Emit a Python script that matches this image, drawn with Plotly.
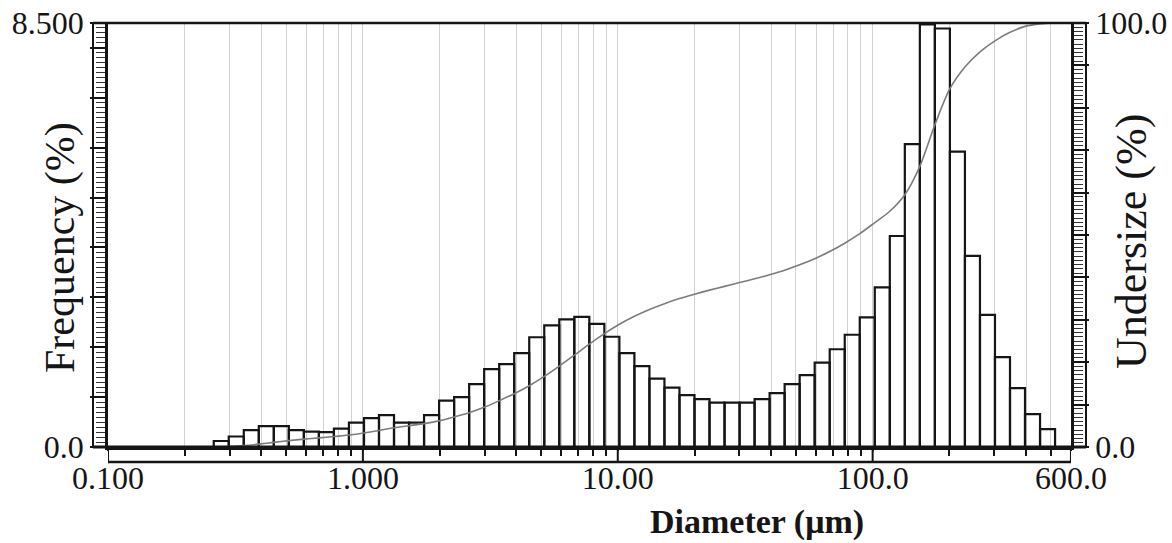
import math
import plotly.graph_objects as go

# ---- data ----
bin_edges_um = [0.2599, 0.2976, 0.3409, 0.3905, 0.4472, 0.5122, 0.5867, 0.6720, 0.7697, 0.8816,
                1.0097, 1.1565, 1.3246, 1.5172, 1.7377, 1.9904, 2.2797, 2.6112, 2.9907, 3.4255,
                3.9234, 4.4938, 5.1471, 5.8953, 6.7523, 7.7340, 8.8583, 10.146, 11.621, 13.310,
                15.245, 17.462, 20.000, 22.908, 26.238, 30.052, 34.421, 39.424, 45.156, 51.720,
                59.239, 67.850, 77.714, 89.012, 101.95, 116.77, 133.75, 153.19, 175.46, 200.97,
                230.19, 263.66, 301.97, 345.87, 396.15, 453.74, 519.71]

frequency_pct = [0.12, 0.21, 0.34, 0.42, 0.42, 0.34, 0.31, 0.30, 0.37, 0.49,
                 0.58, 0.64, 0.49, 0.49, 0.64, 0.93, 1.00, 1.26, 1.56, 1.66,
                 1.88, 2.20, 2.44, 2.56, 2.61, 2.47, 2.21, 1.88, 1.62, 1.37,
                 1.19, 1.04, 0.96, 0.89, 0.89, 0.89, 0.96, 1.08, 1.26, 1.44,
                 1.69, 1.96, 2.25, 2.60, 3.20, 4.23, 6.07, 8.47, 8.39, 5.92,
                 3.83, 2.65, 1.80, 1.18, 0.66, 0.36]

undersize_pct = [0.0, 0.12, 0.33, 0.67, 1.09, 1.51, 1.85, 2.16, 2.46, 2.83, 3.32,
                 3.90, 4.54, 5.03, 5.52, 6.16, 7.09, 8.09, 9.35, 10.91, 12.57,
                 14.45, 16.65, 19.09, 21.65, 24.26, 26.73, 28.94, 30.82, 32.44, 33.81,
                 35.00, 36.04, 37.00, 37.89, 38.78, 39.67, 40.63, 41.71, 42.97, 44.41,
                 46.10, 48.06, 50.31, 52.91, 55.60, 59.50, 66.20, 76.00, 84.50, 89.60,
                 93.20, 95.80, 97.80, 99.20, 99.80, 100.0]

x_tick_values = [0.1, 1, 10, 100, 600]
x_tick_labels = ["0.100", "1.000", "10.00", "100.0", "600.0"]
x_minor_values = [0.2, 0.3, 0.4, 0.5, 0.6, 0.7, 0.8, 0.9,
                  2, 3, 4, 5, 6, 7, 8, 9,
                  20, 30, 40, 50, 60, 70, 80, 90,
                  200, 300, 400, 500]
y_left_ticks = [0, 1, 2, 3, 4, 5, 6, 7, 8, 8.5]
y_left_labels = ["0.0", "", "", "", "", "", "", "", "", "8.500"]
y_right_ticks = [0, 10, 20, 30, 40, 50, 60, 70, 80, 90, 100]
y_right_labels = ["0.0", "", "", "", "", "", "", "", "", "", "100.0"]

INK = "#151515"
GRID = "#d2d2d2"
FONT = "Liberation Serif"

# bars as outlined rectangles on the log axis
bar_x, bar_y = [], []
for lo, hi, h in zip(bin_edges_um[:-1], bin_edges_um[1:], frequency_pct):
    bar_x += [lo, lo, hi, hi, None]
    bar_y += [0, h, h, 0, None]

fig = go.Figure()
fig.add_trace(go.Scatter(x=bar_x, y=bar_y, mode="lines",
                         line=dict(color=INK, width=2.2), hoverinfo="skip"))
fig.add_trace(go.Scatter(x=bin_edges_um, y=undersize_pct, yaxis="y2", mode="lines",
                         line=dict(color="#7c7c7c", width=1.6, shape="spline", smoothing=0.8),
                         hoverinfo="skip"))

W, H = 1172, 543
ML, MR, MT, MB = 108, 101, 23, 96
pw = W - ML - MR
ph = H - MT - MB
rx = 15 / pw
ry = 15 / ph

tickfont = dict(family=FONT, size=32, color=INK)

shapes = [
    dict(type="line", xref="paper", yref="paper", x0=-rx, x1=1 + rx, y0=1, y1=1,
         line=dict(color=INK, width=2.5)),
    dict(type="line", xref="paper", yref="paper", x0=-rx, x1=1 + rx, y0=0, y1=0,
         line=dict(color=INK, width=3)),
    dict(type="line", xref="paper", yref="paper", x0=-rx, x1=-rx, y0=0, y1=1,
         line=dict(color=INK, width=2)),
    dict(type="line", xref="paper", yref="paper", x0=1 + rx, x1=1 + rx, y0=0, y1=1,
         line=dict(color=INK, width=2)),
    dict(type="line", xref="paper", yref="paper", x0=0, x1=1, y0=-ry, y1=-ry,
         line=dict(color=INK, width=2.5)),
]
# long major ticks reaching the lower bracket line (plotly 6: data values on log axes)
for v in x_tick_values:
    shapes.append(dict(type="line", xref="x", yref="paper", x0=v, x1=v, y0=0, y1=-ry,
                       line=dict(color=INK, width=2)))

fig.update_layout(
    width=W, height=H,
    margin=dict(l=ML, r=MR, t=MT, b=MB, pad=0),
    paper_bgcolor="white", plot_bgcolor="white",
    showlegend=False,
    xaxis=dict(
        type="log", automargin=False,
        range=[math.log10(0.1) - 1e-4, math.log10(600) + 1e-4],
        tickvals=x_tick_values, ticktext=x_tick_labels,
        ticks="outside", ticklen=1, tickwidth=2, tickcolor=INK,
        showline=True, linecolor=INK, linewidth=3,
        showgrid=True, gridcolor=GRID, gridwidth=1,
        zeroline=False,
        tickfont=tickfont,
        minor=dict(tickvals=x_minor_values, ticks="outside", ticklen=6, tickwidth=1.5,
                   tickcolor=INK, showgrid=True, gridcolor=GRID, gridwidth=1),
    ),
    yaxis=dict(
        range=[0, 8.5], automargin=False,
        tickvals=y_left_ticks, ticktext=y_left_labels,
        ticks="outside", ticklen=15, tickwidth=1.5, tickcolor=INK,
        showline=True, linecolor=INK, linewidth=2.5,
        showgrid=False, zeroline=False,
        tickfont=tickfont,
        minor=dict(dtick=0.1, ticks="outside", ticklen=9, tickwidth=1, tickcolor="#333"),
    ),
    yaxis2=dict(
        range=[0, 100], overlaying="y", side="right", automargin=False,
        tickvals=y_right_ticks, ticktext=y_right_labels,
        ticks="outside", ticklen=15, tickwidth=1.5, tickcolor=INK,
        showline=True, linecolor=INK, linewidth=2.5,
        showgrid=False, zeroline=False,
        tickfont=tickfont,
        minor=dict(dtick=1, ticks="outside", ticklen=9, tickwidth=1, tickcolor="#333"),
    ),
    shapes=shapes,
    annotations=[
        dict(text="Diameter (μm)", xref="paper", yref="paper",
             x=(757 - ML) / pw, y=-(522 - MT - ph) / ph, showarrow=False,
             xanchor="center", yanchor="middle",
             font=dict(family=FONT, size=34, color=INK, weight="bold")),
        dict(text="Frequency (%)", xref="paper", yref="paper",
             x=(60 - ML) / pw, y=1 - (248 - MT) / ph, showarrow=False, textangle=-90,
             xanchor="center", yanchor="middle",
             font=dict(family=FONT, size=42, color=INK)),
        dict(text="Undersize (%)", xref="paper", yref="paper",
             x=(1131 - ML) / pw, y=1 - (242 - MT) / ph, showarrow=False, textangle=-90,
             xanchor="center", yanchor="middle",
             font=dict(family=FONT, size=44, color=INK)),
    ],
)

fig.write_html("out.html")
